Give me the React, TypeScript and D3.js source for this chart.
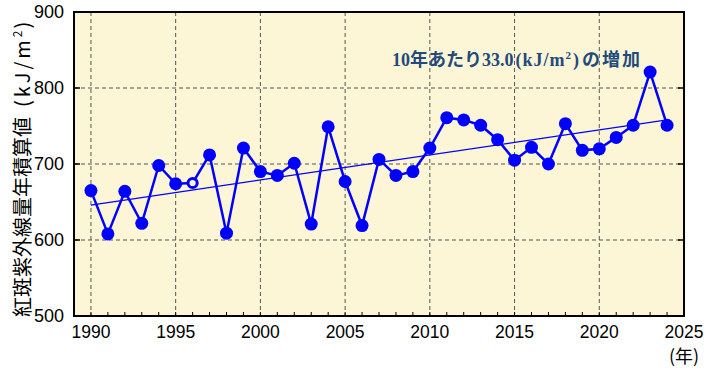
import React, { useRef, useEffect } from "react";
import * as d3 from "d3";

const years = [
  1990, 1991, 1992, 1993, 1994, 1995, 1996, 1997, 1998, 1999, 2000, 2001,
  2002, 2003, 2004, 2005, 2006, 2007, 2008, 2009, 2010, 2011, 2012, 2013,
  2014, 2015, 2016, 2017, 2018, 2019, 2020, 2021, 2022, 2023, 2024,
];
const values = [
  665, 608, 664, 622, 698, 674, 675, 712, 609, 721, 690, 685, 701, 621, 749,
  677, 619, 706, 685, 690, 721, 761, 758, 751, 732, 705, 722, 700, 753, 718,
  720, 735, 751, 821, 751,
];
// years whose marker is drawn hollow
const hollowYears = [1996];

// linear trend (33.0 kJ/m2 per 10 years)
const trendYears = [1990, 2024];
const trendValues = [646, 758];

const xTicks = [1990, 1995, 2000, 2005, 2010, 2015, 2020, 2025];
const yTicks = [500, 600, 700, 800, 900];

const W = 712;
const H = 373;

export default function App() {
  const svgRef = useRef<SVGSVGElement>(null);

  useEffect(() => {
    const margin = { top: 12, right: 28, bottom: 57, left: 74 };
    const x = d3
      .scaleLinear()
      .domain([1989, 2025])
      .range([margin.left, W - margin.right]);
    const y = d3
      .scaleLinear()
      .domain([500, 900])
      .range([H - margin.bottom, margin.top]);

    const svg = d3.select(svgRef.current);
    svg.selectAll("*").remove();

    const [x0, x1] = x.range();
    const [y0, y1] = y.range();

    // plot background
    svg
      .append("rect")
      .attr("x", x0)
      .attr("y", y1)
      .attr("width", x1 - x0)
      .attr("height", y0 - y1)
      .attr("fill", "#fdf6d6");

    // dashed grid
    const grid = svg.append("g").attr("stroke", "#555").attr("stroke-width", 1).attr("stroke-dasharray", "4,3");
    grid
      .selectAll("line.v")
      .data(xTicks.filter((t) => t < 2025))
      .join("line")
      .attr("x1", (d) => x(d))
      .attr("x2", (d) => x(d))
      .attr("y1", y1)
      .attr("y2", y0);
    grid
      .selectAll("line.h")
      .data(yTicks.filter((t) => t > 500 && t < 900))
      .join("line")
      .attr("x1", x0)
      .attr("x2", x1)
      .attr("y1", (d) => y(d))
      .attr("y2", (d) => y(d));

    // minor year ticks along bottom
    svg
      .append("g")
      .attr("stroke", "#000")
      .selectAll("line")
      .data(d3.range(1990, 2025))
      .join("line")
      .attr("x1", (d) => x(d))
      .attr("x2", (d) => x(d))
      .attr("y1", y0)
      .attr("y2", y0 - 4);

    // y ticks on both sides
    const yt = svg.append("g").attr("stroke", "#000").attr("stroke-width", 1.5);
    yTicks.slice(1, -1).forEach((t) => {
      yt.append("line").attr("x1", x0).attr("x2", x0 + 6).attr("y1", y(t)).attr("y2", y(t));
      yt.append("line").attr("x1", x1).attr("x2", x1 - 6).attr("y1", y(t)).attr("y2", y(t));
    });

    // trend line
    svg
      .append("line")
      .attr("x1", x(trendYears[0]))
      .attr("y1", y(trendValues[0]))
      .attr("x2", x(trendYears[1]))
      .attr("y2", y(trendValues[1]))
      .attr("stroke", "#0000ff")
      .attr("stroke-width", 1.2);

    const pts = years.map((yr, i) => ({ year: yr, val: values[i] }));

    const line = d3
      .line<{ year: number; val: number }>()
      .x((d) => x(d.year))
      .y((d) => y(d.val));

    svg
      .append("path")
      .datum(pts)
      .attr("fill", "none")
      .attr("stroke", "#0000ff")
      .attr("stroke-width", 2.5)
      .attr("d", line);

    svg
      .append("g")
      .selectAll("circle")
      .data(pts)
      .join("circle")
      .attr("cx", (d) => x(d.year))
      .attr("cy", (d) => y(d.val))
      .attr("r", (d) => (hollowYears.includes(d.year) ? 4.6 : 6.5))
      .attr("fill", (d) => (hollowYears.includes(d.year) ? "#fdf6d6" : "#0000ff"))
      .attr("stroke", "#0000ff")
      .attr("stroke-width", (d) => (hollowYears.includes(d.year) ? 3 : 0));

    // frame
    svg
      .append("rect")
      .attr("x", x0)
      .attr("y", y1)
      .attr("width", x1 - x0)
      .attr("height", y0 - y1)
      .attr("fill", "none")
      .attr("stroke", "#000")
      .attr("stroke-width", 2);

    const tickFont = "'Liberation Sans', Arial, sans-serif";

    // x tick labels
    svg
      .append("g")
      .selectAll("text")
      .data(xTicks)
      .join("text")
      .attr("x", (d) => x(d))
      .attr("y", 338)
      .attr("text-anchor", "middle")
      .style("font-family", tickFont)
      .style("font-size", "17.5px")
      .text((d) => d);

    svg
      .append("text")
      .attr("x", x(2025))
      .attr("y", 363)
      .attr("text-anchor", "middle")
      .style("font-family", "'Noto Sans CJK JP', sans-serif")
      .style("font-size", "18px")
      .text("(年)");

    // y tick labels
    svg
      .append("g")
      .selectAll("text")
      .data(yTicks)
      .join("text")
      .attr("x", 64)
      .attr("y", (d) => y(d))
      .attr("dy", "0.36em")
      .attr("text-anchor", "end")
      .style("font-family", tickFont)
      .style("font-size", "18px")
      .text((d) => d);

    // y axis title
    const yTitle = svg
      .append("text")
      .attr("transform", "translate(30,317) rotate(-90)")
      .style("font-family", "'Noto Sans CJK JP', sans-serif")
      .style("font-size", "20px")
      .attr("fill", "#000");
    yTitle.append("tspan").text("紅斑紫外線量年積算値");
    yTitle.append("tspan").attr("dx", 10).style("letter-spacing", "3px").text("(kJ/m");
    yTitle.append("tspan").attr("dy", -8).style("font-size", "12px").text("2");
    yTitle.append("tspan").attr("dy", 8).attr("dx", 2).text(")");

    // annotation
    const note = svg
      .append("text")
      .attr("x", 392)
      .attr("y", 66)
      .attr("fill", "#244a7c")
      .style("font-family", "'Liberation Serif', 'Noto Sans CJK JP', serif")
      .style("font-weight", "bold")
      .style("font-size", "18px");
    note.append("tspan").text("10年あたり33.0");
    note.append("tspan").attr("dx", 2).style("letter-spacing", "1px").text("(kJ/m");
    note.append("tspan").attr("dy", -7).style("font-size", "11px").text("2");
    note.append("tspan").attr("dy", 7).attr("dx", 2).text(")");
    note.append("tspan").attr("dx", 3).style("letter-spacing", "2px").text("の増加");
  }, []);

  return (
    <svg
      ref={svgRef}
      width={W}
      height={H}
      style={{ position: "absolute", left: 0, top: 0, background: "#fff" }}
    ></svg>
  );
}
